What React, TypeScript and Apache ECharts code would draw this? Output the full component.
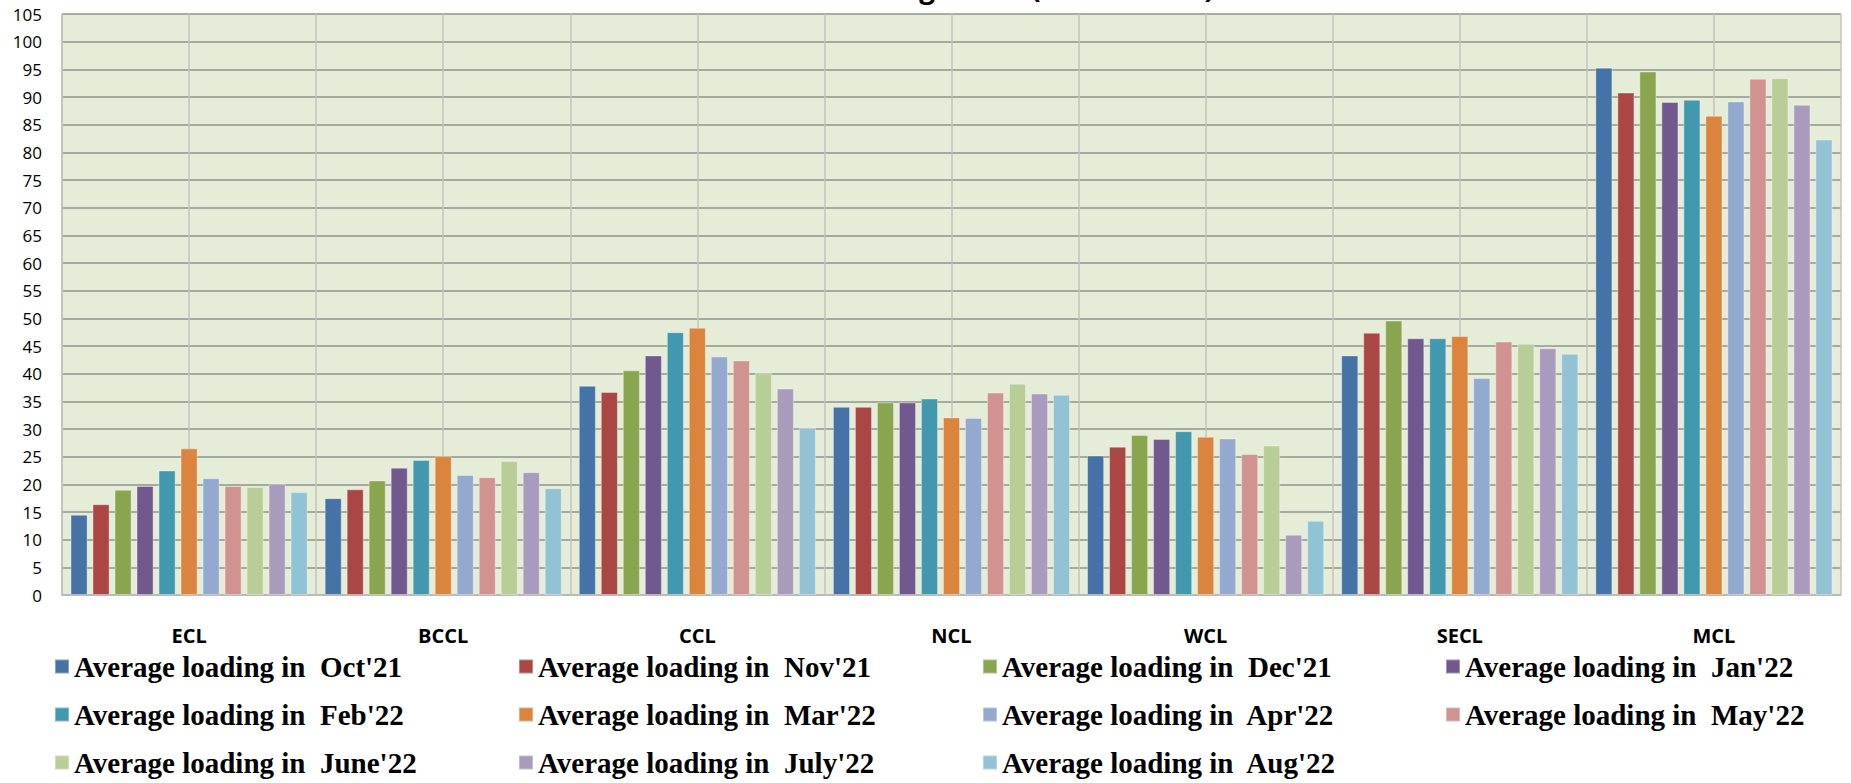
import React, { useEffect, useRef } from "react";
import * as echarts from "echarts";

const categories = ["ECL", "BCCL", "CCL", "NCL", "WCL", "SECL", "MCL"];
const months = ["Oct'21", "Nov'21", "Dec'21", "Jan'22", "Feb'22", "Mar'22", "Apr'22", "May'22", "June'22", "July'22", "Aug'22"];

const oct21 = [14.5, 17.5, 37.8, 34.0, 25.2, 43.3, 95.3];
const nov21 = [16.4, 19.1, 36.7, 34.0, 26.8, 47.4, 90.8];
const dec21 = [19.0, 20.7, 40.6, 34.8, 28.9, 49.6, 94.6];
const jan22 = [19.7, 23.0, 43.3, 34.8, 28.2, 46.4, 89.1];
const feb22 = [22.5, 24.4, 47.5, 35.5, 29.6, 46.4, 89.5];
const mar22 = [26.5, 25.1, 48.3, 32.1, 28.6, 46.8, 86.6];
const apr22 = [21.1, 21.7, 43.1, 32.0, 28.3, 39.2, 89.2];
const may22 = [19.7, 21.3, 42.4, 36.6, 25.5, 45.8, 93.3];
const jun22 = [19.5, 24.2, 40.1, 38.2, 27.0, 45.4, 93.4];
const jul22 = [20.1, 22.2, 37.3, 36.4, 10.9, 44.6, 88.6];
const aug22 = [18.6, 19.3, 30.2, 36.2, 13.4, 43.6, 82.3];

const seriesValues = [oct21, nov21, dec21, jan22, feb22, mar22, apr22, may22, jun22, jul22, aug22];
const colors = ["#4572A7", "#AA4643", "#89A54E", "#71588F", "#4198AF", "#DB843D", "#93A9CF", "#D19392", "#B9CD96", "#A99BBD", "#91C3D5"];

const titleText = "Rake Loading Trend (in Numbers)";
const seriesName = (m: string) => "Average loading in  " + m;

const legendCols = [54, 518, 982, 1445];
const legendRows = [652, 700, 748];

export default function App() {
  const ref = useRef<HTMLDivElement>(null);
  useEffect(() => {
    if (!ref.current) return;
    const chart = echarts.init(ref.current, undefined, { renderer: "svg" });
    const option: any = {
      animation: false,
      backgroundColor: "#ffffff",
      graphic: [
        {
          type: "text",
          x: 1214,
          y: -13,
          style: {
            text: titleText,
            fontFamily: "Open Sans",
            fontWeight: "bold",
            fontSize: 28,
            fill: "#000",
            align: "right",
            verticalAlign: "middle",
          },
        },
      ],
      grid: {
        left: 62,
        right: 10,
        top: 14,
        bottom: 188,
        show: true,
        backgroundColor: "#E5ECD7",
        borderWidth: 0,
      },
      legend: months.map((m, i) => ({
        data: [seriesName(m)],
        left: legendCols[i % 4],
        top: legendRows[Math.floor(i / 4)],
        icon: "rect",
        itemWidth: 14,
        itemHeight: 14,
        padding: 0,
        selectedMode: false,
        textStyle: {
          fontFamily: "Liberation Serif",
          fontWeight: "bold",
          fontSize: 29,
          color: "#000",
        },
      })),
      xAxis: [
        {
          type: "category",
          data: categories,
          axisTick: { show: false },
          axisLine: { show: true, lineStyle: { color: "#BFBFBF", width: 1.5 } },
          splitLine: { show: false },
          axisLabel: {
            margin: 30,
            fontFamily: "Open Sans",
            fontWeight: "bold",
            fontSize: 20,
            color: "#000",
          },
        },
        {
          type: "category",
          data: new Array(categories.length * 2).fill(""),
          position: "bottom",
          axisTick: { show: false },
          axisLine: { show: false },
          axisLabel: { show: false },
          splitLine: { show: true, lineStyle: { color: "#C3C5BE", width: 1.5 } },
        },
      ],
      yAxis: {
        type: "value",
        min: 0,
        max: 105,
        interval: 5,
        axisLine: { show: true, lineStyle: { color: "#BFBFBF", width: 1.5 } },
        axisTick: { show: false },
        axisLabel: {
          margin: 20,
          fontFamily: "Open Sans",
          fontSize: 17,
          color: "#000",
        },
        splitLine: { show: true, lineStyle: { color: "#8F948B", width: 1.5 } },
      },
      series: months.map((m, i) => ({
        name: seriesName(m),
        type: "bar",
        xAxisIndex: 0,
        data: seriesValues[i],
        barGap: "29%",
        barCategoryGap: "6.7%",
        itemStyle: {
          color: colors[i],
          borderColor: "rgba(255,255,255,0.35)",
          borderWidth: 1,
        },
      })),
    };
    chart.setOption(option);
    return () => chart.dispose();
  }, []);
  return (
    <div
      ref={ref}
      style={{ position: "fixed", left: 0, top: 0, width: 1851, height: 783 }}
    />
  );
}
